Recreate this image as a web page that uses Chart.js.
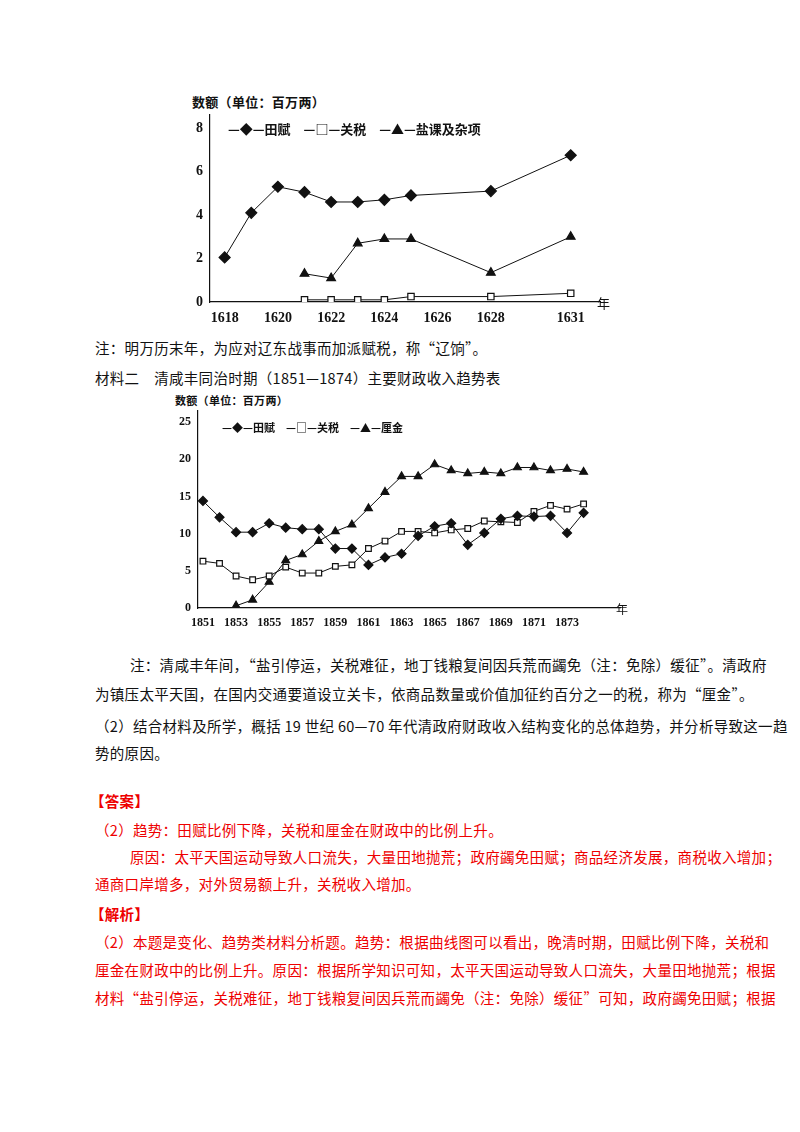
<!DOCTYPE html><html><head><meta charset="utf-8">
<script src="https://cdn.jsdelivr.net/npm/chart.js@4"></script>
<style>
body{margin:0;width:800px;height:1132px;background:#fff;position:relative;font-family:"Noto Sans CJK SC",sans-serif;color:#111}
.t{position:absolute;font-size:14.5px;white-space:nowrap;letter-spacing:0.3px}
.r{color:#e00}
.c{position:absolute}
.lg{position:absolute;font-size:13px;font-weight:bold}
</style></head><body>
<div class="t" style="left:192px;top:92px;font-size:13px;font-weight:bold">数额（单位：百万两）</div>
<div class="c" style="left:170px;top:85px;width:450px;height:245px"><canvas id="c1"></canvas></div>
<div class="t" style="left:597px;top:293px;font-size:13px">年</div>
<div class="lg" style="left:228px;top:119px">—◆—田赋　—□—关税　—▲—盐课及杂项</div>
<div class="t" style="left:95px;top:337px">注：明万历末年，为应对辽东战事而加派赋税，称“辽饷”。</div>
<div class="t" style="left:95px;top:367px">材料二　清咸丰同治时期（1851—1874）主要财政收入趋势表</div>
<div class="t" style="left:175px;top:392px;font-size:11px;font-weight:bold">数额（单位：百万两）</div>
<div class="c" style="left:160px;top:395px;width:470px;height:239px"><canvas id="c2"></canvas></div>
<div class="t" style="left:616px;top:600px;font-size:12px">年</div>
<div class="lg" style="left:222px;top:419px;font-size:11px">—◆—田赋　—□—关税　—▲—厘金</div>
<div class="t" style="left:130px;top:654px">注：清咸丰年间，“盐引停运，关税难征，地丁钱粮复间因兵荒而蠲免（注：免除）缓征”。清政府</div>
<div class="t" style="left:95px;top:683px">为镇压太平天国，在国内交通要道设立关卡，依商品数量或价值加征约百分之一的税，称为“厘金”。</div>
<div class="t" style="left:95px;top:715px">（2）结合材料及所学，概括 19 世纪 60—70 年代清政府财政收入结构变化的总体趋势，并分析导致这一趋</div>
<div class="t" style="left:95px;top:742px">势的原因。</div>
<div class="t r" style="left:90px;top:790px;font-weight:bold">【答案】</div>
<div class="t r" style="left:95px;top:819px">（2）趋势：田赋比例下降，关税和厘金在财政中的比例上升。</div>
<div class="t r" style="left:130px;top:846px">原因：太平天国运动导致人口流失，大量田地抛荒；政府蠲免田赋；商品经济发展，商税收入增加；</div>
<div class="t r" style="left:95px;top:873px">通商口岸增多，对外贸易额上升，关税收入增加。</div>
<div class="t r" style="left:90px;top:903px;font-weight:bold">【解析】</div>
<div class="t r" style="left:95px;top:931px">（2）本题是变化、趋势类材料分析题。趋势：根据曲线图可以看出，晚清时期，田赋比例下降，关税和</div>
<div class="t r" style="left:95px;top:959px">厘金在财政中的比例上升。原因：根据所学知识可知，太平天国运动导致人口流失，大量田地抛荒；根据</div>
<div class="t r" style="left:95px;top:987px">材料“盐引停运，关税难征，地丁钱粮复间因兵荒而蠲免（注：免除）缓征”可知，政府蠲免田赋；根据</div>
<script>
const years1=[1618,1619,1620,1621,1622,1623,1624,1625,1628,1631];
const tianfu1=[2.05,4.1,5.3,5.05,4.6,4.6,4.7,4.9,5.1,6.75];
const guanYears1=[1621,1622,1623,1624,1625,1628,1631];
const guanshui1=[0.1,0.1,0.1,0.1,0.25,0.25,0.4];
const yanke1=[1.3,1.1,2.7,2.9,2.9,1.35,3.0];
const xLabels1=[1618,1620,1622,1624,1626,1628,1631];
const yTicks1=[0,2,4,6,8];

const years2=[1851,1852,1853,1854,1855,1856,1857,1858,1859,1860,1861,1862,1863,1864,1865,1866,1867,1868,1869,1870,1871,1872,1873,1874];
const tianfu2=[14.4,12.2,10.2,10.2,11.4,10.8,10.6,10.6,8.0,8.0,5.8,6.8,7.3,9.7,11.0,11.4,8.5,10.1,12.0,12.4,12.3,12.4,10.1,12.8];
const guanshui2=[6.3,6.0,4.3,3.8,4.3,5.5,4.7,4.7,5.6,5.8,8.0,9.0,10.3,10.3,10.1,10.5,10.7,11.7,11.6,11.5,13.0,13.8,13.3,14.0];
const lijin2=[null,null,0.3,1.1,3.5,6.4,7.2,9.0,10.3,11.2,13.4,15.6,17.7,17.7,19.3,18.5,18.1,18.3,18.1,18.9,18.9,18.5,18.7,18.3];
const xLabels2=[1851,1853,1855,1857,1859,1861,1863,1865,1867,1869,1871,1873];

const pts=(xs,ys)=>xs.map((x,i)=>({x,y:ys[i]}));
function ds(data,style,r){return {data,borderColor:'#111',borderWidth:1,pointStyle:style,pointRadius:r,
  pointBackgroundColor:style==='rect'?'#fff':'#111',pointBorderColor:'#111',pointBorderWidth:1.2,spanGaps:false,tension:0};}
const font={family:'"Liberation Serif",serif',weight:'bold'};
function opts(xmin,xmax,xl,ymax,yt,ywid,xh,pt,pr,fs){
 return {responsive:true,maintainAspectRatio:false,animation:false,layout:{padding:{top:pt,right:pr,left:0,bottom:0}},
 plugins:{legend:{display:false},tooltip:{enabled:false}},
 scales:{x:{type:'linear',min:xmin,max:xmax,grid:{display:false,drawTicks:true,tickLength:5,color:'#111'},border:{color:'#111',width:1.2},
  afterBuildTicks:s=>{const t=[];for(let v=Math.ceil(xmin);v<=Math.floor(xmax)-1;v++)t.push({value:v});s.ticks=t;},
  afterFit:s=>{s.height=xh;},
  ticks:{autoSkip:false,maxRotation:0,color:'#111',font:{...font,size:fs},callback:v=>xl.includes(v)?String(v):''}},
 y:{min:0,max:ymax,grid:{display:false,tickLength:4,color:'#111'},border:{color:'#111',width:1.2},
  afterBuildTicks:s=>{s.ticks=yt.map(v=>({value:v}));},afterFit:s=>{s.width=ywid;},
  ticks:{color:'#111',font:{...font,size:fs}}}}};
}
new Chart(document.getElementById('c1'),{type:'line',data:{datasets:[
 ds(pts(years1,tianfu1),'rectRot',5.5),ds(pts(guanYears1,guanshui1),'rect',4.5),ds(pts(guanYears1,yanke1),'triangle',5)]},
 options:opts(1617.45,1632.1,xLabels1,8.6,yTicks1,40,28,30,20,14)});
new Chart(document.getElementById('c2'),{type:'line',data:{datasets:[
 ds(pts(years2,tianfu2),'rectRot',4.5),ds(pts(years2,guanshui2),'rect',4),ds(pts(years2,lijin2),'triangle',4.5)]},
 options:opts(1850.7,1876.2,xLabels2,26.5,[0,5,10,15,20,25],38,26,16,10,12)});
</script></body></html>
